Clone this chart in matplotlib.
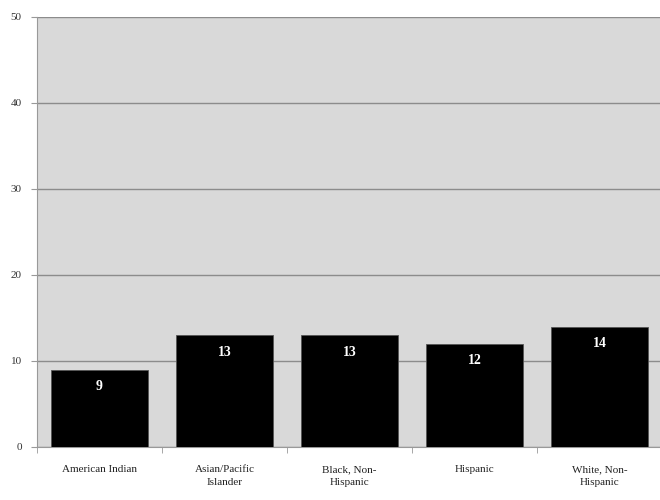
import numpy as np
import matplotlib.pyplot as plt

# Chart data
categories = ['American Indian', 'Asian/Pacific\nIslander', 'Black, Non-\nHispanic',
              'Hispanic', 'White, Non-\nHispanic']
values = [9, 13, 13, 12, 14]
yticks = [0, 10, 20, 30, 40, 50]

plt.rcParams['font.family'] = ['Liberation Serif', 'DejaVu Serif']

fig = plt.figure(figsize=(6.6, 5), dpi=100)
ax = fig.add_axes([0.056, 0.106, 0.947, 0.860])
ax.set_facecolor('#d9d9d9')

x = np.arange(len(categories))
bars = ax.bar(x, values, width=0.78, color='black', edgecolor='#555555', linewidth=0.6, zorder=3)

for xi, v in zip(x, values):
    ax.text(xi, v - 1.2, str(v), ha='center', va='top', color='white',
            fontsize=10, fontweight='bold', zorder=4)

ax.set_xlim(-0.5, len(categories) - 0.5)
ax.set_ylim(0, 50)
ax.set_yticks(yticks)
ax.set_yticklabels([str(t) for t in yticks], fontsize=8, color='#333333')
ax.yaxis.grid(True, color='#8c8c8c', linewidth=1.0, zorder=1)

ax.set_xticks(x)
ax.set_xticklabels(categories, fontsize=8, color='#222222', linespacing=1.6)
ax.tick_params(axis='x', length=0, pad=13)
ax.set_xticks(np.arange(len(categories) + 1) - 0.5, minor=True)
ax.tick_params(axis='x', which='minor', length=4, color='#999999')
ax.tick_params(axis='y', length=4, color='#999999', pad=7)

for side in ['top', 'right']:
    ax.spines[side].set_visible(False)
ax.spines['left'].set_color('#999999')
ax.spines['bottom'].set_color('#999999')

fig.savefig('out.png', dpi=100)
